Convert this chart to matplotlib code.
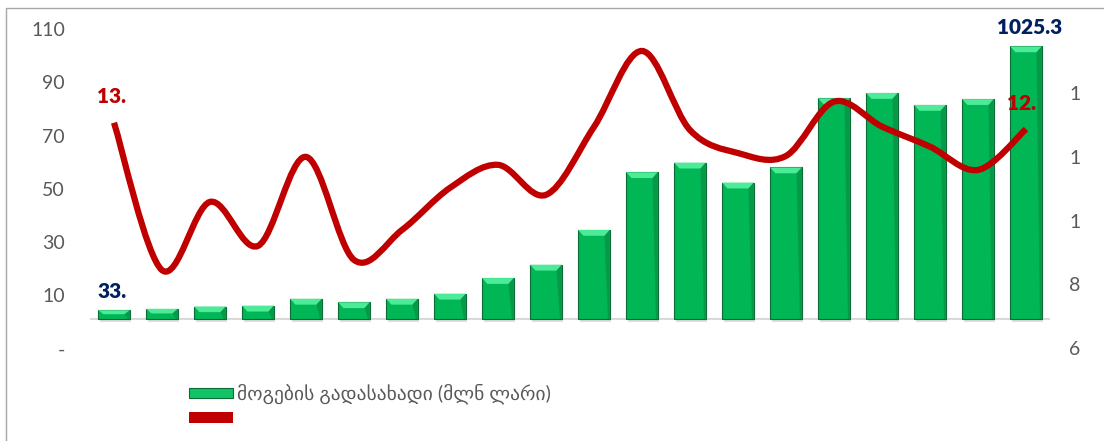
import numpy as np
import matplotlib.pyplot as plt
from matplotlib.path import Path
from matplotlib.patches import PathPatch, Polygon, Patch, Rectangle

# მონაცემები
bar_vals = [33, 38, 47, 50, 76, 63, 76, 95, 154, 204,
            335, 552, 588, 513, 570, 830, 850, 805, 827, 1025.3]
line_vals = [13.07, 8.45, 10.59, 9.21, 12.0, 8.77, 9.71, 11.03, 11.75, 10.81,
             12.94, 15.32, 12.84, 12.12, 12.03, 13.73, 12.95, 12.32, 11.59, 12.87]
left_ticks = [-110, 90, 290, 490, 690, 890, 1090]
left_labels = ['-', '10', '30', '50', '70', '90', '110']
right_ticks = [6, 8, 10, 12, 14]
right_labels = ['6', '8', '1', '1', '1']
bar_label = 'მოგების გადასახადი (მლნ ლარი)'

plt.rcParams['font.family'] = ['Lato', 'DejaVu Sans']

fig = plt.figure(figsize=(11.04, 4.41), dpi=100)
ax = fig.add_axes([90/1104, 81/441, 960/1104, 340/441])
ax2 = ax.twinx()

X = np.arange(len(bar_vals))
w = 0.66

# sombra das barras
ax.bar(X + 0.03, -10, bottom=-3, width=w, color='#7f7f7f', alpha=0.25, zorder=1)
ax.bar(X, bar_vals, width=w, color='#00B655', edgecolor='#0B6B35', linewidth=0.8, zorder=2)

# bisel no topo de cada barra
dy = 22.0
dx = 0.11
for x, h in zip(X, bar_vals):
	d = min(dy, h * 0.45)
	pts = [(x - w/2, h), (x + w/2, h), (x + w/2 - dx, h - d), (x - w/2 + dx, h - d)]
	ax.add_patch(Polygon(pts, closed=True, facecolor='#4BEB97', edgecolor='none', zorder=3))
	ax.add_patch(Polygon([(x + w/2 - dx, h - d), (x + w/2, h), (x + w/2, 0), (x + w/2 - 0.04, 0)],
		closed=True, facecolor='#07994A', edgecolor='none', zorder=3))

ax.axhline(0, xmin=0, xmax=1, color='#D9D9D9', linewidth=1.5, zorder=1)

ax.set_xlim(-0.5, len(bar_vals) - 0.5)
ax.set_ylim(-154.2, 1124.5)
ax2.set_ylim(5.633, 16.29)

ax.set_yticks(left_ticks)
ax.set_yticklabels(left_labels)
ax2.set_yticks(right_ticks)
ax2.set_yticklabels(right_labels)
ax.set_xticks([])
ax.tick_params(axis='y', length=0, pad=18, labelsize=14, labelcolor='#595959')
ax2.tick_params(axis='y', length=0, pad=14, labelsize=14, labelcolor='#595959')
for a in (ax, ax2):
	for s in a.spines.values():
		s.set_visible(False)

# linha suavizada (estilo Excel)
P = np.column_stack([X, line_vals]).astype(float)
verts = [P[0]]
codes = [Path.MOVETO]
n = len(P)
for i in range(n - 1):
	p0 = P[max(i - 1, 0)]
	p1 = P[i]
	p2 = P[i + 1]
	p3 = P[min(i + 2, n - 1)]
	c1 = p1 + (p2 - p0) / 6.0
	c2 = p2 - (p3 - p1) / 6.0
	verts += [c1, c2, p2]
	codes += [Path.CURVE4] * 3
path = Path(verts, codes)
ax2.add_patch(PathPatch(path, facecolor='none', edgecolor='#C00000', linewidth=4.5,
	capstyle='butt', joinstyle='round', zorder=5))

# rótulos
ax.annotate('33.', (X[0], bar_vals[0]), xytext=(-2, 19), textcoords='offset pixels',
	ha='center', va='center', fontsize=15, fontweight='heavy', color='#002060')
ax.annotate('1025.3', (X[-1], bar_vals[-1]), xytext=(4, 19), textcoords='offset pixels',
	ha='center', va='center', fontsize=15, fontweight='heavy', color='#002060')
ax2.annotate('13.', (X[0], line_vals[0]), xytext=(-3, 26), textcoords='offset pixels',
	ha='center', va='center', fontsize=15, fontweight='heavy', color='#C00000')
ax2.annotate('12.', (X[-1], line_vals[-1]), xytext=(-4, 26), textcoords='offset pixels',
	ha='center', va='center', fontsize=15, fontweight='heavy', color='#C00000')

# legenda
handles = [Patch(facecolor='#13C466', edgecolor='#0B6B35', linewidth=0.8),
	Patch(facecolor='#C00000', edgecolor='none')]
leg = fig.legend(handles, [bar_label, ''], loc='upper left',
	bbox_to_anchor=(189/1104, 1 - 384/441), frameon=False, fontsize=14,
	handlelength=2.27, handleheight=0.45, handletextpad=0.2, labelspacing=0.3,
	borderaxespad=0, borderpad=0)
for t in leg.get_texts():
	t.set_color('#595959')

# moldura
fig.patches.append(Rectangle((6/1104, -0.01), 1.1, 1 - 8/441 + 0.01, transform=fig.transFigure,
	fill=False, edgecolor='#A6A6A6', linewidth=1.0))

plt.savefig('out.png')
